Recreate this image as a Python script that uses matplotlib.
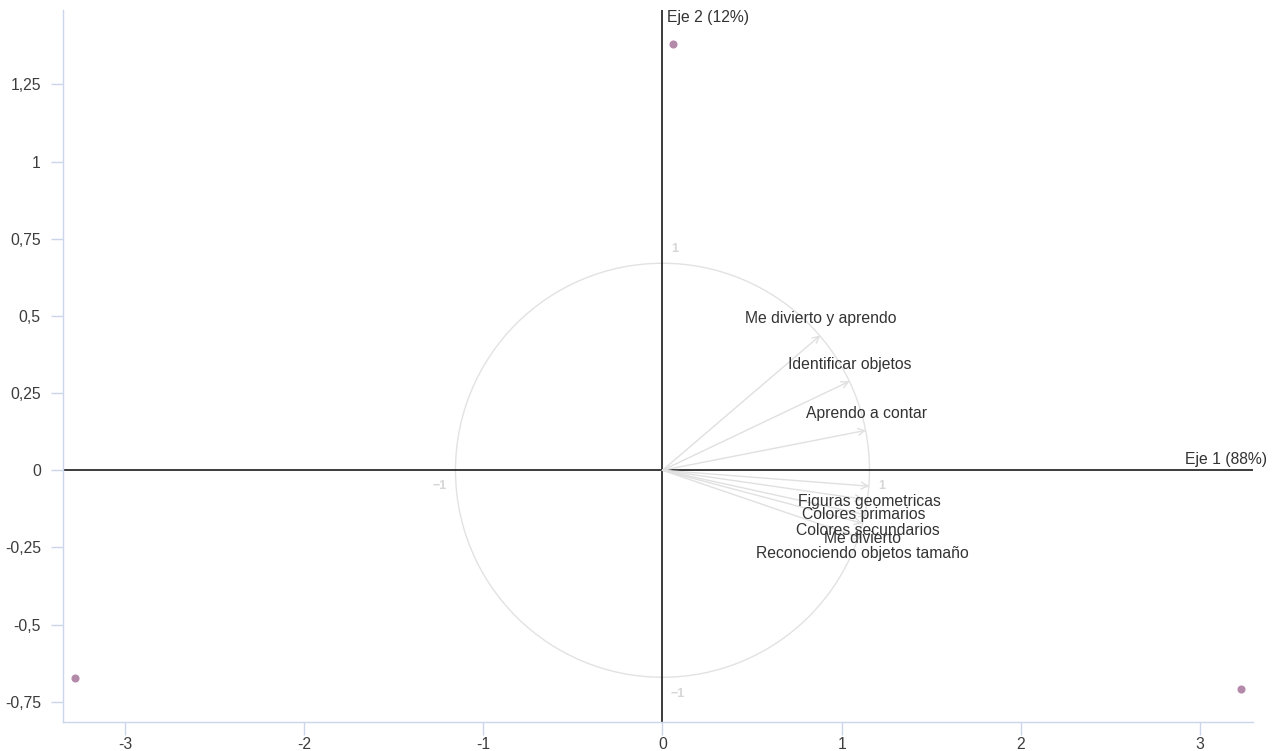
import matplotlib.pyplot as plt
from matplotlib.patches import Ellipse

plt.rcParams['font.family'] = ['Liberation Sans', 'DejaVu Sans']

# individuals (row scores on the first two axes)
ind_x = [-3.279, 0.059, 3.229]
ind_y = [-0.673, 1.381, -0.709]

# variables (correlations with axis 1 and axis 2)
var_names = ['Me divierto y aprendo', 'Identificar objetos', 'Aprendo a contar',
             'Figuras geometricas', 'Colores primarios', 'Colores secundarios',
             'Me divierto', 'Reconociendo objetos tamaño']
var_c1 = [0.763, 0.904, 0.984, 1.000, 0.970, 0.990, 0.966, 0.966]
var_c2 = [0.652, 0.430, 0.193, -0.077, -0.140, -0.217, -0.256, -0.330]

x_ticks = [-3, -2, -1, 0, 1, 2, 3]
x_labels = ['-3', '-2', '-1', '0', '1', '2', '3']
y_ticks = [-0.75, -0.5, -0.25, 0, 0.25, 0.5, 0.75, 1, 1.25]
y_labels = ['-0,75', '-0,5', '-0,25', '0', '0,25', '0,5', '0,75', '1', '1,25']

eje1 = 'Eje 1 (88%)'
eje2 = 'Eje 2 (12%)'

W, H = 1276, 751
fig = plt.figure(figsize=(W / 100, H / 100), dpi=100)
ax_l, ax_r, ax_t, ax_b = 63, 1253, 10, 722
ax = fig.add_axes([ax_l / W, 1 - ax_b / H, (ax_r - ax_l) / W, (ax_b - ax_t) / H])

xmin, xmax = -3.346, 3.296
ymin, ymax = -0.8155, 1.491
ax.set_xlim(xmin, xmax)
ax.set_ylim(ymin, ymax)

# correlation circle is drawn with a fixed screen radius
R = 207
sx = R * (xmax - xmin) / (ax_r - ax_l)
sy = R * (ymax - ymin) / (ax_b - ax_t)

fs = 11.3
grid_c = '#ccd6eb'
for s in ['top', 'right']:
    ax.spines[s].set_visible(False)
for s in ['left', 'bottom']:
    ax.spines[s].set_color(grid_c)
    ax.spines[s].set_linewidth(1)

ax.set_xticks(x_ticks)
ax.set_xticklabels(x_labels)
ax.set_yticks(y_ticks)
ax.set_yticklabels(y_labels)
ax.tick_params(axis='x', length=9, width=1, color=grid_c, labelcolor='#3c3c3c',
               labelsize=fs, pad=2)
ax.tick_params(axis='y', length=9, width=1, color=grid_c, labelcolor='#3c3c3c',
               labelsize=fs, pad=7)

ax.axhline(0, color='#1a1a1a', lw=1.2, zorder=2)
ax.axvline(0, color='#1a1a1a', lw=1.2, zorder=2)

ax.add_patch(Ellipse((0, 0), 2 * sx, 2 * sy, fill=False, ec='#e2e2e2', lw=1, zorder=1))

lab_c = '#d6d6d6'
ax.annotate('1', (0, sy), textcoords='offset pixels', xytext=(12, 14),
            ha='center', va='center', color=lab_c, fontsize=9, fontweight='bold')
ax.annotate('1', (sx, 0), textcoords='offset pixels', xytext=(12, -16),
            ha='center', va='center', color=lab_c, fontsize=9, fontweight='bold')
ax.annotate('\u22121', (-sx, 0), textcoords='offset pixels', xytext=(-16, -16),
            ha='center', va='center', color=lab_c, fontsize=9, fontweight='bold')
ax.annotate('\u22121', (0, -sy), textcoords='offset pixels', xytext=(15, -17),
            ha='center', va='center', color=lab_c, fontsize=9, fontweight='bold')

for name, c1, c2 in zip(var_names, var_c1, var_c2):
    tip = (c1 * sx, c2 * sy)
    ax.annotate('', xy=tip, xytext=(0, 0),
                arrowprops=dict(arrowstyle='->', color='#e0e0e0', lw=1,
                                shrinkA=0, shrinkB=0, mutation_scale=12),
                zorder=3)
    dy = 17 if c2 > 0 else -15
    ax.annotate(name, tip, textcoords='offset pixels', xytext=(0, dy),
                ha='center', va='center', color='#333333', fontsize=fs, zorder=4)

ax.scatter(ind_x, ind_y, s=34, color='#b48aab', zorder=5, linewidths=0)

ax.annotate(eje1, (1, 0), xycoords=('axes fraction', 'data'), textcoords='offset pixels',
            xytext=(14, 3), ha='right', va='bottom', color='#333333', fontsize=fs)
ax.annotate(eje2, (0, 1), xycoords=('data', 'axes fraction'), textcoords='offset pixels',
            xytext=(5, 0), ha='left', va='top', color='#333333', fontsize=fs)

fig.savefig('out.png', dpi=100)
